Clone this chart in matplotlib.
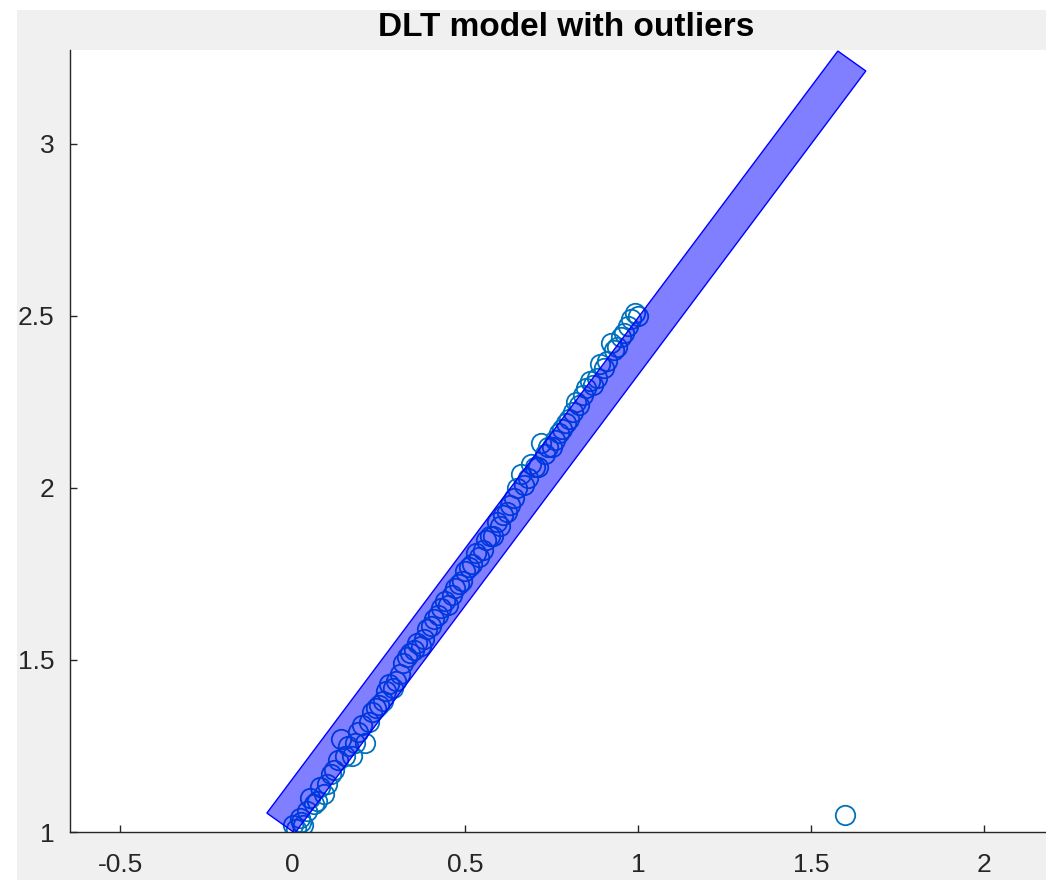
"""DLT model with outliers: scatter of inlier points plus the fitted band."""
import matplotlib
matplotlib.use("Agg")
import matplotlib.pyplot as plt
from matplotlib.patches import Rectangle, Polygon

# inlier points
pts_x = [0.00, 0.01, 0.02, 0.03, 0.05, 0.06, 0.08, 0.09, 0.11, 0.12,
         0.13, 0.14, 0.15, 0.17, 0.19, 0.20, 0.21, 0.23, 0.24, 0.26,
         0.27, 0.29, 0.31, 0.32, 0.33, 0.35, 0.36, 0.38, 0.39, 0.41,
         0.42, 0.44, 0.45, 0.47, 0.48, 0.50, 0.52, 0.53, 0.55, 0.56,
         0.58, 0.59, 0.61, 0.62, 0.64, 0.65, 0.66, 0.68, 0.69, 0.71,
         0.72, 0.74, 0.76, 0.77, 0.79, 0.80, 0.82, 0.83, 0.85, 0.86,
         0.88, 0.89, 0.91, 0.92, 0.94, 0.95, 0.96, 0.97, 0.98, 0.99, 1.00,
         0.025, 0.04, 0.07, 0.10, 0.16, 0.18, 0.22, 0.25, 0.28, 0.30,
         0.34, 0.37, 0.40, 0.43, 0.46, 0.49, 0.51, 0.54, 0.57, 0.60,
         0.63, 0.67, 0.70, 0.73, 0.75, 0.78, 0.81, 0.84, 0.87, 0.90, 0.93]
pts_y = [1.02, 1.01, 1.04, 1.02, 1.10, 1.08, 1.13, 1.11, 1.17, 1.18,
         1.21, 1.27, 1.22, 1.22, 1.29, 1.31, 1.26, 1.35, 1.36, 1.38,
         1.41, 1.42, 1.46, 1.49, 1.51, 1.53, 1.55, 1.56, 1.59, 1.62,
         1.63, 1.67, 1.66, 1.71, 1.72, 1.76, 1.78, 1.81, 1.82, 1.85,
         1.86, 1.90, 1.92, 1.93, 1.97, 2.00, 2.04, 2.03, 2.07, 2.06,
         2.13, 2.12, 2.14, 2.16, 2.19, 2.20, 2.25, 2.24, 2.29, 2.31,
         2.32, 2.36, 2.37, 2.42, 2.41, 2.44, 2.45, 2.47, 2.49, 2.51, 2.50,
         1.03, 1.06, 1.09, 1.14, 1.25, 1.26, 1.32, 1.37, 1.43, 1.44,
         1.52, 1.54, 1.60, 1.65, 1.69, 1.73, 1.77, 1.80, 1.86, 1.89,
         1.95, 2.01, 2.06, 2.10, 2.12, 2.17, 2.22, 2.27, 2.30, 2.35, 2.40]

# the outlier
out_x = [1.60]
out_y = [1.05]

# corners of the fitted DLT band
band_x = [-0.075, 1.578, 1.659, 0.006]
band_y = [1.055, 3.270, 3.212, 0.997]

x_ticks = [-0.5, 0, 0.5, 1, 1.5, 2]
y_ticks = [1, 1.5, 2, 2.5, 3]

plt.rcParams["font.family"] = ["Liberation Sans", "DejaVu Sans"]

W, H = 1046, 880
fig = plt.figure(figsize=(W / 100, H / 100), dpi=100, facecolor="white")
fig.patches.append(Rectangle((17 / W, 0), 1, (H - 10) / H, transform=fig.transFigure,
                             facecolor="#f0f0f0", edgecolor="none", zorder=-10))

ax = fig.add_axes([70 / W, 48 / H, (1062 - 70) / W, (832 - 50) / H])
ax.set_facecolor("white")

ax.plot(pts_x + out_x, pts_y + out_y, "o", mfc="none", mec="#0072BD",
        ms=14, mew=1.3, zorder=2)
ax.add_patch(Polygon(list(zip(band_x, band_y)), closed=True,
                     facecolor=(0, 0, 1, 0.5), edgecolor=(0, 0, 1, 1),
                     linewidth=1.0, zorder=3))

ax.set_xlim(-0.645, 2.227)
ax.set_ylim(1.0, 3.273)
ax.set_xticks(x_ticks)
ax.set_xticklabels(["-0.5", "0", "0.5", "1", "1.5", "2"])
ax.set_yticks(y_ticks)
ax.set_yticklabels(["1", "1.5", "2", "2.5", "3"])
ax.tick_params(direction="in", length=5, width=1.0, colors="#262626",
               labelsize=19)
ax.tick_params(axis="x", pad=15)
ax.tick_params(axis="y", pad=11)
for s in ("top", "right"):
    ax.spines[s].set_visible(False)
for s in ("left", "bottom"):
    ax.spines[s].set_color("#262626")
    ax.spines[s].set_linewidth(1.0)

ax.set_title("DLT model with outliers", fontsize=24, fontweight="bold",
             color="black", pad=10)

fig.savefig("out.png", dpi=100, facecolor=fig.get_facecolor())
